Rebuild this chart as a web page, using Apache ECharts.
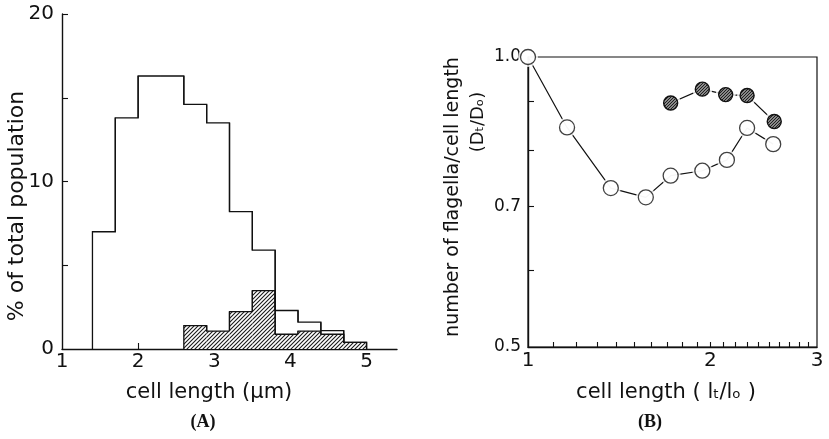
<!DOCTYPE html>
<html><head><meta charset="utf-8">
<script src="https://cdn.jsdelivr.net/npm/echarts@6/dist/echarts.min.js"></script>
<style>html,body{margin:0;padding:0;background:#fff}#c{width:829px;height:439px}</style>
</head><body><div id="c"></div>
<script>
// ---------- Panel A : histogram ----------
const binStartsA = [1.4, 1.7, 2.0, 2.3, 2.6, 2.9, 3.2, 3.5, 3.8, 4.1, 4.4, 4.7];
const binWidthA = 0.3;
const totalA   = [7.0, 13.8, 16.3, 16.3, 14.6, 13.5, 8.2, 5.9, 2.3, 1.6, 1.1, 0.4];
const hatchedA = [0, 0, 0, 0, 1.4, 1.07, 2.23, 3.48, 0.88, 1.07, 0.88, 0.4];
const yTicksA  = [5, 10, 15, 20];
const yLabelsA = [0, 10, 20];
const xTicksA  = [2, 3, 4, 5];
const xLabelsA = [1, 2, 3, 4, 5];

// ---------- Panel B : log-log scatter ----------
const xOpenB  = [1.0, 1.16, 1.37, 1.565, 1.72, 1.94, 2.13, 2.30, 2.54];
const yOpenB  = [1.0, 0.845, 0.731, 0.715, 0.753, 0.762, 0.782, 0.844, 0.812];
const xHatchB = [1.72, 1.94, 2.12, 2.30, 2.55];
const yHatchB = [0.896, 0.926, 0.914, 0.912, 0.857];
const xTicksB  = [1.1,1.2,1.3,1.4,1.5,1.6,1.7,1.8,1.9,2,2.1,2.2,2.3,2.4,2.5,2.6,2.7,2.8,2.9];
const xLabelsB = [1, 2, 3];
const yTicksB  = [0.6, 0.7, 0.8, 0.9];
const yLabelsB = [0.5, 0.7, 1.0];

const INK = '#111';
const FONT = '"DejaVu Sans", sans-serif';

function hatch(size, lw, color, bg) {
  const c = document.createElement('canvas');
  c.width = c.height = size;
  const g = c.getContext('2d');
  if (bg) { g.fillStyle = bg; g.fillRect(0, 0, size, size); }
  g.strokeStyle = color; g.lineWidth = lw; g.lineCap = 'square';
  g.beginPath();
  g.moveTo(0, size); g.lineTo(size, 0);
  g.moveTo(-size / 2, size / 2); g.lineTo(size / 2, -size / 2);
  g.moveTo(size / 2, size * 1.5); g.lineTo(size * 1.5, size / 2);
  g.stroke();
  return c;
}
const histHatch = { image: hatch(4, 1.1, '#1a1a1a', '#fff'), repeat: 'repeat' };
const dotHatch  = { image: hatch(3, 1.2, '#1a1a1a', '#bbb'), repeat: 'repeat' };

function stepData(vals) {
  return vals.map((v, i) => [binStartsA[i], binStartsA[i] + binWidthA, v,
    i + 1 < vals.length ? vals[i + 1] : 0, i > 0 ? vals[i - 1] : 0]);
}
function stepRender(fillPattern) {
  return function (params, api) {
    const x0 = api.value(0), x1 = api.value(1), y = api.value(2), yn = api.value(3), yp = api.value(4);
    const children = [];
    if (y > 0 && fillPattern) {
      const a = api.coord([x0, y]), b = api.coord([x1, 0]);
      children.push({ type: 'rect', shape: { x: a[0], y: a[1], width: b[0] - a[0], height: b[1] - a[1] },
        style: { fill: fillPattern, stroke: null } });
    }
    const pts = [];
    if (y > 0 || yp > 0) pts.push(api.coord([x0, yp]));
    if (y > 0) { pts.push(api.coord([x0, y])); pts.push(api.coord([x1, y])); pts.push(api.coord([x1, yn])); }
    if (pts.length > 1) children.push({ type: 'polyline', shape: { points: pts },
      style: { stroke: INK, fill: null, lineWidth: 1.3 } });
    return { type: 'group', children };
  };
}
function dotRender(params, api) {
  const p = api.coord([api.value(0), api.value(1)]);
  return { type: 'circle', shape: { cx: p[0], cy: p[1], r: 7 },
    style: { fill: dotHatch, stroke: INK, lineWidth: 1.4 } };
}

const axisLineStyle = { color: INK, width: 1.4 };

const option = {
  animation: false,
  backgroundColor: '#fff',
  grid: [
    { left: 62, top: 14, right: 432, bottom: 90, containLabel: false },
    { left: 528, top: 57, right: 12, bottom: 92, show: true, borderColor: INK, borderWidth: 1.2, backgroundColor: 'transparent' }
  ],
  xAxis: [
    { gridIndex: 0, type: 'value', min: 1, max: 5.4,
      axisLine: { show: true, onZero: false, lineStyle: axisLineStyle },
      axisTick: { show: true, inside: true, length: 6, customValues: xTicksA, lineStyle: { color: INK, width: 1.1 } },
      axisLabel: { customValues: xLabelsA, fontSize: 20, color: INK, fontFamily: FONT, margin: 3 },
      splitLine: { show: false } },
    { gridIndex: 1, type: 'log', logBase: 10, min: 1, max: 3,
      axisLine: { show: true, onZero: false, lineStyle: axisLineStyle },
      axisTick: { show: true, inside: true, length: 5, customValues: xTicksB, lineStyle: { color: INK, width: 1.1 } },
      axisLabel: { customValues: xLabelsB, fontSize: 20, color: INK, fontFamily: FONT, margin: 4,
        formatter: v => String(Math.round(v)) },
      splitLine: { show: false }, minorTick: { show: false } }
  ],
  yAxis: [
    { gridIndex: 0, type: 'value', min: 0, max: 20,
      axisLine: { show: true, onZero: false, lineStyle: axisLineStyle },
      axisTick: { show: true, inside: true, length: 6, customValues: yTicksA, lineStyle: { color: INK, width: 1.1 } },
      axisLabel: { customValues: yLabelsA, fontSize: 20, color: INK, fontFamily: FONT, margin: 8 },
      splitLine: { show: false } },
    { gridIndex: 1, type: 'log', logBase: 10, min: 0.5, max: 1.0,
      axisLine: { show: true, onZero: false, lineStyle: axisLineStyle },
      axisTick: { show: true, inside: true, length: 6, customValues: yTicksB, lineStyle: { color: INK, width: 1.1 } },
      axisLabel: { customValues: yLabelsB, fontSize: 17, color: INK, fontFamily: FONT, margin: 7,
        formatter: v => Number(v).toFixed(1) },
      splitLine: { show: false }, minorTick: { show: false } }
  ],
  series: [
    { type: 'custom', xAxisIndex: 0, yAxisIndex: 0, clip: false, z: 3,
      renderItem: stepRender(histHatch), data: stepData(hatchedA) },
    { type: 'custom', xAxisIndex: 0, yAxisIndex: 0, clip: false, z: 4,
      renderItem: stepRender(null), data: stepData(totalA) },

    { type: 'line', xAxisIndex: 1, yAxisIndex: 1, clip: false, symbol: 'none', z: 2,
      lineStyle: { color: INK, width: 1.2 }, data: xOpenB.map((x, i) => [x, yOpenB[i]]) },
    { type: 'line', xAxisIndex: 1, yAxisIndex: 1, clip: false, symbol: 'none', z: 2,
      lineStyle: { color: INK, width: 1.2 }, data: xHatchB.map((x, i) => [x, yHatchB[i]]) },
    { type: 'scatter', xAxisIndex: 1, yAxisIndex: 1, clip: false, symbolSize: 20, z: 3, silent: true,
      itemStyle: { color: '#fff' }, data: xOpenB.map((x, i) => [x, yOpenB[i]]).concat(xHatchB.map((x, i) => [x, yHatchB[i]])) },
    { type: 'scatter', xAxisIndex: 1, yAxisIndex: 1, clip: false, symbolSize: 15, z: 4,
      itemStyle: { color: '#fff', borderColor: INK, borderWidth: 1.3 }, data: xOpenB.map((x, i) => [x, yOpenB[i]]) },
    { type: 'custom', xAxisIndex: 1, yAxisIndex: 1, clip: false, z: 5,
      renderItem: dotRender, data: xHatchB.map((x, i) => [x, yHatchB[i]]) }
  ],
  graphic: [
    { type: 'text', x: 209, y: 393, style: { text: 'cell length (μm)', font: '21px ' + FONT, fill: INK, align: 'center', verticalAlign: 'middle' } },
    { type: 'text', x: 17, y: 206, rotation: Math.PI / 2, style: { text: '% of total population', font: '22px ' + FONT, fill: INK, align: 'center', verticalAlign: 'middle' } },
    { type: 'text', x: 453, y: 197, rotation: Math.PI / 2, style: { text: 'number of flagella/cell length', font: '19px ' + FONT, fill: INK, align: 'center', verticalAlign: 'middle' } },
    { type: 'text', x: 478, y: 122, rotation: Math.PI / 2, style: { text: '(Dₜ/Dₒ)', font: '18px ' + FONT, fill: INK, align: 'center', verticalAlign: 'middle' } },
    { type: 'text', x: 666, y: 393, style: { text: 'cell length ( lₜ/lₒ )', font: '21px ' + FONT, fill: INK, align: 'center', verticalAlign: 'middle' } },
    { type: 'text', x: 203, y: 422, style: { text: '(A)', font: 'bold 18px "Liberation Serif", serif', fill: INK, align: 'center', verticalAlign: 'middle' } },
    { type: 'text', x: 650, y: 422, style: { text: '(B)', font: 'bold 18px "Liberation Serif", serif', fill: INK, align: 'center', verticalAlign: 'middle' } }
  ]
};
echarts.init(document.getElementById('c')).setOption(option);
</script></body></html>
